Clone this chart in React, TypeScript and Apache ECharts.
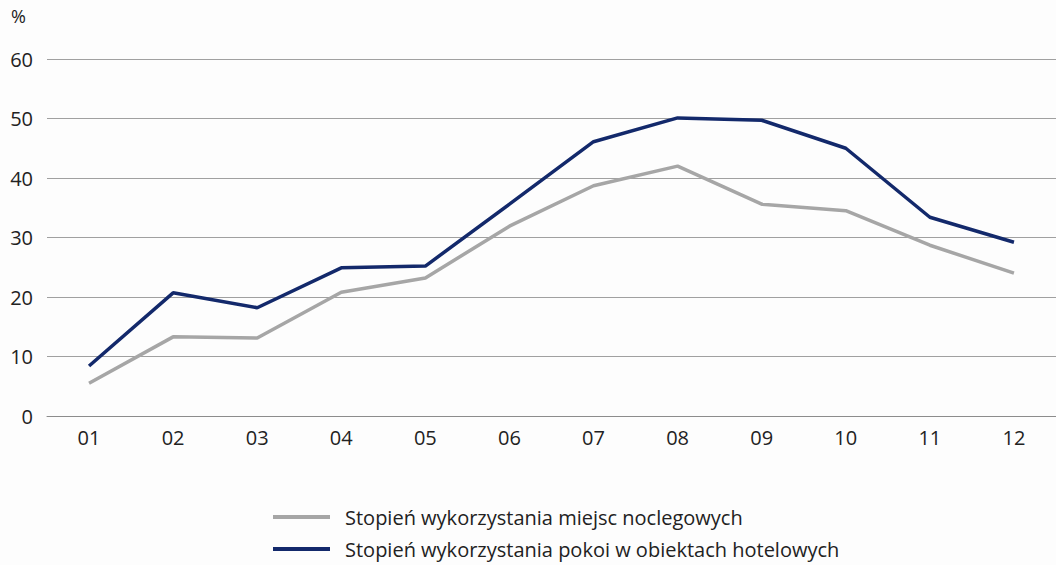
import React, { useEffect, useRef } from "react";
import * as echarts from "echarts";

const months = ["01", "02", "03", "04", "05", "06", "07", "08", "09", "10", "11", "12"];
const miejsca = [5.5, 13.3, 13.1, 20.8, 23.2, 31.9, 38.7, 42.0, 35.6, 34.5, 28.7, 24.0];
const pokoje = [8.4, 20.7, 18.2, 24.9, 25.2, 35.6, 46.1, 50.1, 49.7, 45.0, 33.4, 29.2];
const seriesNames = [
  "Stopień wykorzystania miejsc noclegowych",
  "Stopień wykorzystania pokoi w obiektach hotelowych",
];

export default function App() {
  const ref = useRef<HTMLDivElement>(null);
  useEffect(() => {
    document.body.style.margin = "0";
    const chart = echarts.init(ref.current!, null, { renderer: "svg" });
    const font = "'Open Sans', sans-serif";
    chart.setOption({
      animation: false,
      backgroundColor: "#fdfdfd",
      textStyle: { fontFamily: font },
      grid: { left: 47, right: 0, top: 59, bottom: 149, containLabel: false },
      graphic: [
        {
          type: "text",
          left: 11,
          top: 7,
          style: { text: "%", fontSize: 18, fill: "#222", fontFamily: font },
        },
      ],
      legend: {
        orient: "vertical",
        left: 268,
        top: 502,
        itemWidth: 57,
        itemHeight: 4,
        itemGap: 12,
        icon: "rect",
        textStyle: { fontSize: 20, color: "#222", fontFamily: font, padding: [0, 0, 0, 10] },
        data: seriesNames,
      },
      xAxis: {
        type: "category",
        data: months,
        boundaryGap: true,
        axisLine: { show: true, lineStyle: { color: "#8c8c8c", width: 1 } },
        axisTick: { show: false },
        axisLabel: { fontSize: 20, color: "#222", margin: 11, fontFamily: font },
      },
      yAxis: {
        type: "value",
        min: 0,
        max: 60,
        interval: 10,
        axisLine: { show: false },
        axisTick: { show: false },
        axisLabel: { fontSize: 20, color: "#222", margin: 14, fontFamily: font },
        splitLine: { lineStyle: { color: "#a0a0a0", width: 1 } },
      },
      series: [
        {
          name: seriesNames[0],
          type: "line",
          data: miejsca,
          symbol: "none",
          lineStyle: { color: "#a6a6a6", width: 3.5 },
          itemStyle: { color: "#a6a6a6" },
        },
        {
          name: seriesNames[1],
          type: "line",
          data: pokoje,
          symbol: "none",
          lineStyle: { color: "#13296b", width: 3.5 },
          itemStyle: { color: "#13296b" },
        },
      ],
    });
    return () => chart.dispose();
  }, []);
  return <div ref={ref} style={{ width: 1056, height: 565 }} />;
}
